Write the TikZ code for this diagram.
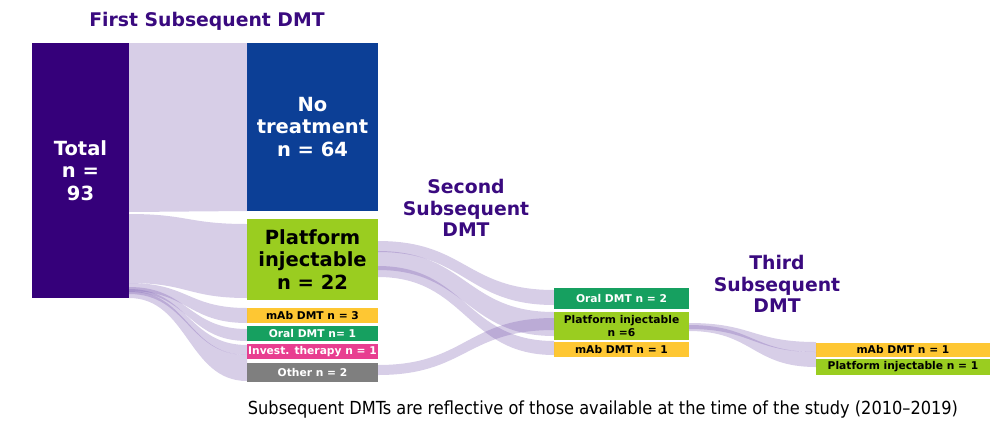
\documentclass[tikz,border=0pt]{standalone}
\usepackage{fontspec}
\setmainfont{DejaVu Sans}
\newfontfamily\notefont{DejaVu Sans Condensed}
\usetikzlibrary{calc}

\definecolor{hdr}{HTML}{3A0A7F}
\definecolor{totc}{HTML}{35007A}
\definecolor{ntc}{HTML}{0C3F96}
\definecolor{platc}{HTML}{9ACD20}
\definecolor{mabc}{HTML}{FEC733}
\definecolor{oralc}{HTML}{16A060}
\definecolor{invc}{HTML}{E83E90}
\definecolor{othc}{HTML}{7F7F7F}
\definecolor{flowc}{HTML}{7A5CB0}

% flow band between two nodes: source, top/bottom at source, target, top/bottom at target
\newcommand\flowband[6]{%
  \fill[flow] let \p1=(#1.east), \p2=(#4.west), \n1={(\x1+\x2)/2} in
    (\x1,-#2pt) .. controls (\n1,-#2pt) and (\n1,-#5pt) .. (\x2,-#5pt)
    -- (\x2,-#6pt) .. controls (\n1,-#6pt) and (\n1,-#3pt) .. (\x1,-#3pt) -- cycle;}

\begin{document}
\begin{tikzpicture}[x=1pt,y=-1pt,
  box/.style={anchor=north west,inner sep=0pt,outer sep=0pt,align=center,
    font=\bfseries\fontsize{19.5}{22.5}\selectfont},
  tag/.style={anchor=north west,inner sep=0pt,outer sep=0pt,align=center,
    font=\bfseries\fontsize{10.7}{13}\selectfont},
  head/.style={text=hdr,align=center,font=\bfseries\fontsize{18.8}{21.5}\selectfont},
  flow/.style={fill=flowc,fill opacity=0.3}]
\useasboundingbox (0,0) rectangle (992,424);

% headers
\node[head] (h1) at (207,21) {First Subsequent DMT};
\node[head] (h2) at (466,208) {Second\\Subsequent\\DMT};
\node[head] (h3) at (777,284) {Third\\Subsequent\\DMT};

% first level
\node[box,fill=totc,text=white,minimum width=97pt,minimum height=255pt] (tot) at (32,43) {Total\\n =\\93};
\node[box,fill=ntc,text=white,minimum width=131pt,minimum height=168pt] (nt) at (247,43) {No\\treatment\\n = 64};
\node[box,fill=platc,text=black,minimum width=131pt,minimum height=81pt] (plat) at (247,219) {Platform\\injectable\\n = 22};
\node[tag,fill=mabc,text=black,minimum width=131pt,minimum height=15pt] (mab) at (247,308) {mAb DMT n = 3};
\node[tag,fill=oralc,text=white,minimum width=131pt,minimum height=15pt] (oral) at (247,326) {Oral DMT n= 1};
\node[tag,fill=invc,text=white,minimum width=131pt,minimum height=15pt] (inv) at (247,344) {Invest. therapy n = 1};
\node[tag,fill=othc,text=white,minimum width=131pt,minimum height=19pt] (oth) at (247,363) {Other n = 2};

% second level
\node[tag,fill=oralc,text=white,minimum width=135pt,minimum height=21pt] (oral2) at (554,288) {Oral DMT n = 2};
\node[tag,fill=platc,text=black,minimum width=135pt,minimum height=28pt] (pi2) at (554,312) {Platform injectable\\n =6};
\node[tag,fill=mabc,text=black,minimum width=135pt,minimum height=15pt] (mab2) at (554,342) {mAb DMT n = 1};

% third level
\node[tag,fill=mabc,text=black,minimum width=174pt,minimum height=14pt] (mab3) at (816,343) {mAb DMT n = 1};
\node[tag,fill=platc,text=black,minimum width=174pt,minimum height=16pt] (pi3) at (816,359) {Platform injectable n = 1};

% flows
\begin{scope}[on background layer/.try]
\flowband{tot}{43}{212}{nt}{43}{211}
\flowband{tot}{214}{283}{plat}{224}{298}
\flowband{tot}{283}{291}{mab}{308}{323}
\flowband{tot}{287}{292}{oral}{329}{341}
\flowband{tot}{289}{294}{inv}{345}{355}
\flowband{tot}{291}{298}{oth}{355}{381}
\flowband{plat}{241}{252}{oral2}{290}{305}
\flowband{plat}{251}{270}{pi2}{312}{336}
\flowband{plat}{266}{277}{mab2}{341}{355}
\flowband{oth}{365}{375}{pi2}{318}{330}
\flowband{pi2}{323}{329}{mab3}{342}{352}
\flowband{pi2}{325}{331}{pi3}{352}{367}
\end{scope}

% note
\node[font=\notefont\fontsize{18}{20}\selectfont] (note) at (603,410) {Subsequent DMTs are reflective of those available at the time of the study (2010–2019)};
\end{tikzpicture}
\end{document}
